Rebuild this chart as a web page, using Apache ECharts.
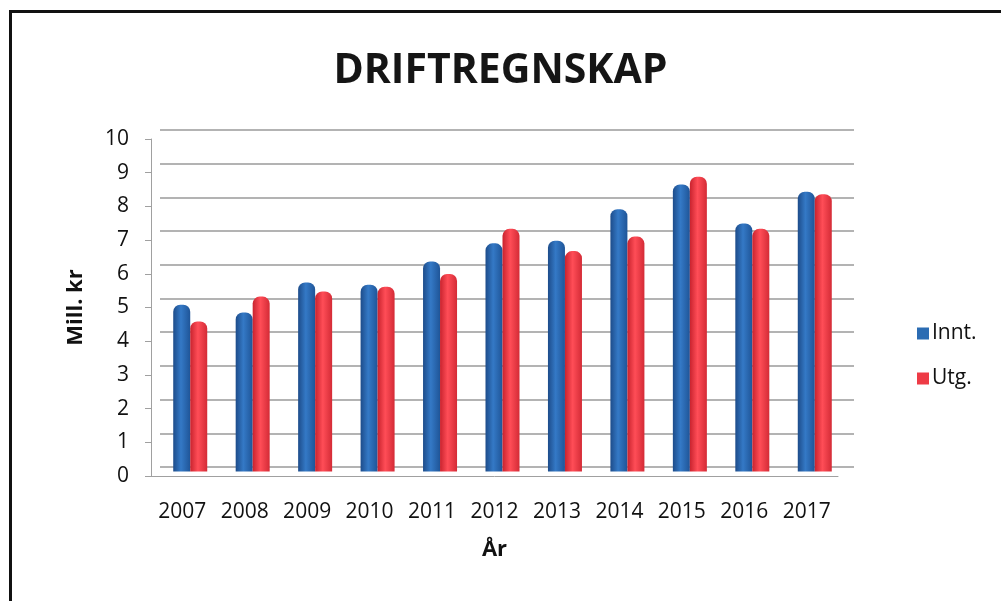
<!DOCTYPE html>
<html>
<head>
<meta charset="utf-8">
<script src="https://cdn.jsdelivr.net/npm/echarts@6/dist/echarts.min.js"></script>
<style>
  html, body { margin: 0; padding: 0; background: #fff; }
  #chart { width: 1001px; height: 601px; }
</style>
</head>
<body>
<div id="chart"></div>
<script>
// data
var years = ['2007', '2008', '2009', '2010', '2011', '2012', '2013', '2014', '2015', '2016', '2017'];
var innt = [4.95, 4.72, 5.61, 5.54, 6.23, 6.77, 6.85, 7.78, 8.52, 7.36, 8.3];
var utg = [4.45, 5.19, 5.34, 5.48, 5.86, 7.2, 6.54, 6.97, 8.75, 7.2, 8.23];
var yTicks = [0, 1, 2, 3, 4, 5, 6, 7, 8, 9, 10];

var FONT = '"Open Sans", sans-serif';

var chart = echarts.init(document.getElementById('chart'));

// cylinder-ish shading
var grad = function(dark, light, edge) {
  return new echarts.graphic.LinearGradient(0, 0, 1, 0, [
    { offset: 0, color: dark },
    { offset: 0.45, color: light },
    { offset: 1, color: edge }
  ]);
};

var option = {
  backgroundColor: '#fff',
  animation: false,
  title: {
    text: 'DRIFTREGNSKAP',
    left: 'center',
    top: 46,
    textStyle: { fontFamily: FONT, fontSize: 41, fontWeight: 'bold', color: '#151515' }
  },
  legend: {
    orient: 'vertical',
    left: 912,
    top: 318,
    itemWidth: 12,
    itemHeight: 12,
    itemGap: 24,
    icon: 'rect',
    data: [
      { name: 'Innt.', itemStyle: { color: '#2b6cb3' } },
      { name: 'Utg.', itemStyle: { color: '#ee3b46' } }
    ],
    textStyle: { fontFamily: FONT, fontSize: 21, color: '#111', padding: [0, 0, 0, -2] }
  },
  // 0: back wall grid lines, 1: bars, 2: front axis with labels
  grid: [
    { left: 160, top: 130, width: 694, height: 337 },
    { left: 159, top: 134.5, width: 687, height: 337 },
    { left: 151, top: 139, width: 687, height: 337 }
  ],
  xAxis: [
    { gridIndex: 0, type: 'category', data: years, show: false },
    { gridIndex: 1, type: 'category', data: years, show: false },
    {
      gridIndex: 2, type: 'category', data: years,
      axisLine: { lineStyle: { color: '#a0a0a0', width: 1 } },
      axisTick: { show: false },
      axisLabel: { fontFamily: FONT, fontSize: 21, color: '#111', margin: 26 },
      name: 'År',
      nameLocation: 'middle',
      nameGap: 63,
      nameTextStyle: { fontFamily: FONT, fontSize: 22, fontWeight: 'bold', color: '#111' }
    }
  ],
  yAxis: [
    {
      gridIndex: 0, type: 'value', min: 0, max: 10, interval: 1,
      axisLine: { show: false }, axisTick: { show: false }, axisLabel: { show: false },
      splitLine: { lineStyle: { color: '#9a9a9a', width: 1.5 } }
    },
    { gridIndex: 1, type: 'value', min: 0, max: 10, interval: 1, show: false, splitLine: { show: false } },
    {
      gridIndex: 2, type: 'value', min: 0, max: 10, interval: 1,
      axisLine: { show: true, lineStyle: { color: '#a0a0a0', width: 1 } },
      axisTick: { show: true, length: 6, lineStyle: { color: '#a0a0a0' } },
      splitLine: { show: false },
      axisLabel: {
        fontFamily: FONT, fontSize: 21, color: '#111', margin: 22,
        formatter: function(v) { return yTicks.indexOf(v) >= 0 ? String(v) : ''; }
      },
      name: 'Mill. kr',
      nameLocation: 'middle',
      nameGap: 64,
      nameRotate: 90,
      nameTextStyle: { fontFamily: FONT, fontSize: 22, fontWeight: 'bold', color: '#111' }
    }
  ],
  series: [
    {
      name: 'Innt.',
      type: 'bar',
      xAxisIndex: 1,
      yAxisIndex: 1,
      data: innt,
      barWidth: 17,
      barGap: '0%',
      itemStyle: {
        color: grad('#1d4c8a', '#3479c6', '#1f5598'),
        borderRadius: [7, 7, 0, 0]
      }
    },
    {
      name: 'Utg.',
      type: 'bar',
      xAxisIndex: 1,
      yAxisIndex: 1,
      data: utg,
      barWidth: 17,
      itemStyle: {
        color: grad('#c9232e', '#ff4d57', '#d42b36'),
        borderRadius: [7, 7, 0, 0]
      }
    }
  ],
  graphic: [
    {
      type: 'rect',
      left: 8,
      top: 9,
      shape: { width: 1020, height: 620 },
      style: { fill: 'none', stroke: '#111', lineWidth: 3 },
      silent: true
    }
  ]
};

chart.setOption(option);
</script>
</body>
</html>
